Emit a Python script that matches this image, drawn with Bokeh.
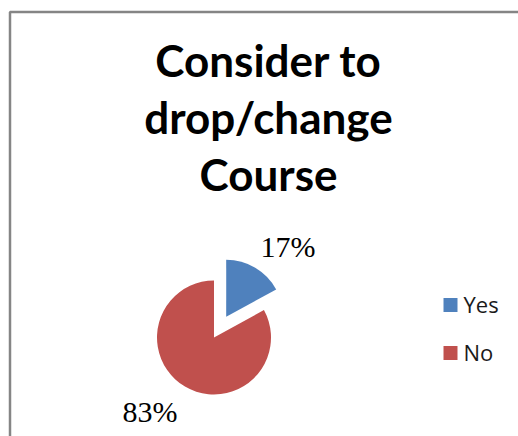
import math
from bokeh.plotting import figure
from bokeh.models import Range1d, ColumnDataSource
from bokeh.core.properties import value
from bokeh.embed import file_html
from bokeh.resources import INLINE

# ---- data ----
title_lines = ["Consider to", "drop/change", "Course"]
categories = ["Yes", "No"]
percents = [17, 83]
colors = ["#4F81BD", "#C0504D"]

W, H = 518, 436

p = figure(width=W, height=H, output_backend="svg", toolbar_location=None,
           x_range=Range1d(0, W), y_range=Range1d(0, H), min_border=0)
p.axis.visible = False
p.grid.visible = False
p.outline_line_color = None
p.background_fill_color = "white"
p.border_fill_color = "white"

def Y(y_img):
    return H - y_img

BASE_FIX = 0.4  # bokeh draws 'alphabetic' text about 0.4em lower

def base(y_img, size):
    return Y(y_img - BASE_FIX * size)

# chart border (partly outside the window)
p.line(x=[9.5, 9.5, W + 20], y=[Y(H + 20), Y(11.5), Y(11.5)],
       line_color="#858585", line_width=2.5)

# title
TS = 44
p.text(x=[268] * 3, y=[base(77, TS), base(134, TS), base(191, TS)],
       text=title_lines,
       text_font=value("Lato"), text_font_style="bold", text_font_size=f"{TS}px",
       text_align="center", text_baseline="alphabetic", text_color="black")

# pie
cx, cy = 213.5, Y(337)
r = 57
explode = [24, 0]
total = sum(percents)
start = math.pi / 2
starts, ends, xs, ys = [], [], [], []
for pc, ex in zip(percents, explode):
    sweep = 2 * math.pi * pc / total
    e = start
    s = start - sweep
    mid = (s + e) / 2
    starts.append(s)
    ends.append(e)
    xs.append(cx + ex * math.cos(mid))
    ys.append(cy + ex * math.sin(mid))
    start = s

src = ColumnDataSource(dict(x=xs, y=ys, s=starts, e=ends, color=colors))
p.wedge(x="x", y="y", radius=r, start_angle="s", end_angle="e",
        fill_color="color", line_color=None, source=src)

# data labels
LS = 30
labels = [f"{v}%" for v in percents]
lab_x = [260, 122]
lab_y = [base(258, LS), base(423, LS)]
p.text(x=lab_x, y=lab_y, text=labels, text_font=value("Liberation Serif"),
       text_font_size=f"{LS}px", text_align="left", text_baseline="alphabetic",
       text_color="black")

# legend
GS = 22
leg_sq = [304.5, 352.5]
p.scatter(x=[450] * 2, y=[Y(v) for v in leg_sq], marker="square", size=14,
          fill_color=colors, line_color=None)
p.text(x=[463] * 2, y=[base(v + 7.5, GS) for v in leg_sq], text=categories,
       text_font=value("Open Sans"), text_font_size=f"{GS}px", text_align="left",
       text_baseline="alphabetic", text_color="#1a1a1a")

open("out.html", "w").write(file_html(p, INLINE))
